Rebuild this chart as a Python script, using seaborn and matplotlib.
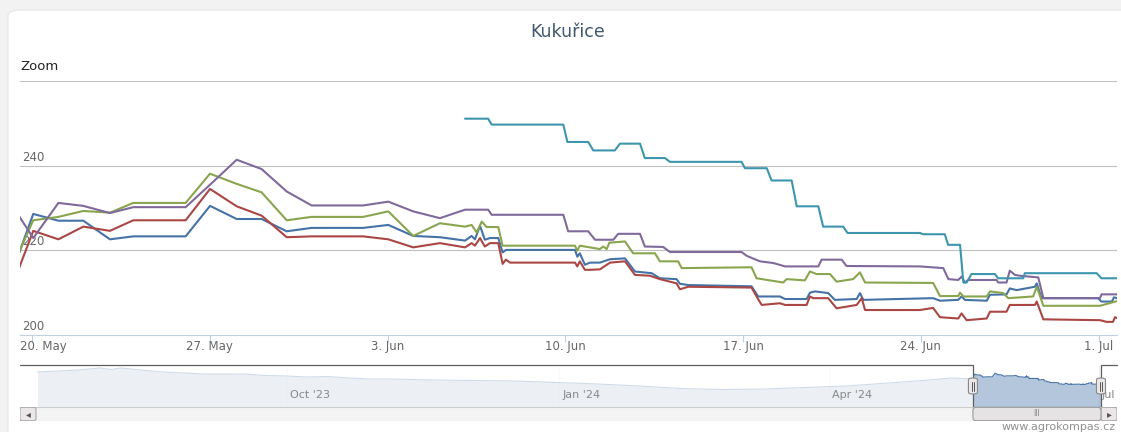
import numpy as np
import pandas as pd
import matplotlib
matplotlib.use("Agg")
import matplotlib.pyplot as plt
import matplotlib.dates as mdates
import matplotlib.transforms as mtransforms
from matplotlib.patches import Rectangle, FancyBboxPatch
import seaborn as sns

W, H = 1121, 432
BASE = pd.Timestamp("2024-05-20")

# ---- zoomed period: days after 20 May 2024 / price ----
blue_days = [-0.51, 0.05, 1.04, 2.02, 3.07, 3.99, 6.05, 7.01, 8.06, 9.04, 10.03, 11.01, 13.04,
             14.03, 15.01, 16.06, 17.05, 17.31, 17.44, 17.64, 17.83, 18.03, 18.36, 18.53, 18.66,
             21.38, 21.47, 21.57, 21.77, 21.97, 22.36, 22.76, 23.35, 23.74, 24.07, 24.40, 24.72,
             25.38, 25.51, 25.84, 28.33, 28.59, 29.45, 29.65, 30.50, 30.63, 30.83, 31.35, 31.61,
             32.47, 32.60, 32.73, 35.48, 35.75, 36.47, 36.60, 36.73, 37.59, 37.72, 38.37, 38.50,
             38.77, 39.49, 39.56, 39.75, 41.97, 42.11, 42.52, 42.60, 42.72]
blue_vals = [219.3, 228.6, 227.0, 227.0, 222.6, 223.3, 223.3, 230.5, 227.4, 227.4, 224.5, 225.3, 225.3,
             226.0, 223.4, 223.1, 222.3, 223.4, 222.6, 225.8, 222.5, 222.9, 222.9, 219.5, 220.1,
             220.1, 218.5, 219.3, 216.6, 217.1, 217.1, 217.9, 218.1, 215.0, 214.8, 214.6, 213.4,
             213.2, 212.1, 211.8, 211.5, 209.1, 209.1, 208.5, 208.5, 210.0, 210.3, 209.9, 208.3,
             208.5, 209.9, 208.3, 208.7, 208.1, 208.3, 209.1, 208.3, 208.1, 209.5, 209.6, 211.0,
             210.6, 211.4, 212.2, 208.7, 208.7, 207.9, 207.9, 208.9, 208.7]

red_days = [-0.51, 0.05, 1.04, 2.02, 3.07, 3.99, 6.05, 7.01, 8.06, 9.04, 10.03, 11.01, 13.04,
            14.03, 15.01, 16.06, 17.05, 17.31, 17.44, 17.64, 17.83, 18.03, 18.36, 18.53, 18.66,
            18.82, 21.38, 21.47, 21.57, 21.77, 21.97, 22.36, 22.76, 23.35, 23.74, 24.33, 24.72,
            25.38, 25.51, 25.84, 28.33, 28.53, 28.73, 29.45, 29.65, 30.50, 30.63, 30.76, 31.35,
            31.68, 32.47, 32.67, 32.80, 34.96, 35.48, 35.75, 36.47, 36.60, 36.80, 37.59, 37.72,
            38.37, 38.50, 39.49, 39.56, 39.82, 42.05, 42.31, 42.56, 42.64, 42.72]
red_vals = [215.8, 224.6, 222.6, 225.6, 224.6, 227.1, 227.1, 234.5, 230.4, 228.2, 223.1, 223.3, 223.3,
            222.6, 220.7, 221.7, 220.7, 221.7, 221.1, 222.9, 220.9, 221.7, 221.7, 216.8, 217.8,
            217.1, 217.1, 216.2, 217.4, 215.4, 215.4, 215.5, 217.1, 217.4, 214.2, 214.0, 213.2,
            212.2, 210.8, 211.4, 211.2, 209.1, 207.1, 207.5, 207.1, 207.1, 209.1, 208.7, 208.7,
            206.3, 207.1, 208.7, 205.9, 205.9, 206.4, 204.2, 203.9, 205.1, 203.5, 203.9, 205.5,
            205.5, 207.1, 207.1, 207.9, 203.7, 203.5, 203.1, 203.1, 204.2, 204.0]

green_days = [-0.47, 0.05, 1.04, 2.02, 3.07, 3.99, 6.05, 7.01, 8.06, 9.04, 10.03, 11.01, 13.04,
              14.03, 15.01, 16.06, 17.05, 17.31, 17.51, 17.71, 17.90, 18.36, 18.53, 21.38, 21.47,
              21.57, 22.36, 22.49, 22.63, 22.73, 23.35, 23.67, 24.53, 24.72, 25.44, 25.58, 28.33,
              28.53, 29.58, 29.71, 30.43, 30.63, 30.89, 31.42, 31.68, 32.33, 32.60, 32.80, 35.48,
              35.75, 36.47, 36.54, 36.67, 37.59, 37.72, 38.24, 38.44, 39.42, 39.56, 39.82, 42.05,
              42.72]
green_vals = [220.1, 227.1, 227.9, 229.3, 228.9, 231.2, 231.2, 238.1, 235.7, 233.7, 227.1, 227.9, 227.9,
              229.2, 223.4, 226.4, 225.6, 226.0, 224.2, 226.8, 225.5, 225.5, 221.1, 221.1, 219.9,
              221.1, 220.3, 220.9, 220.3, 221.8, 222.1, 219.3, 219.3, 217.4, 217.4, 215.8, 216.0,
              213.4, 212.4, 213.2, 212.9, 215.0, 214.4, 214.4, 212.6, 213.2, 214.8, 212.4, 212.3,
              209.2, 209.2, 210.0, 209.1, 209.1, 210.3, 209.9, 208.7, 209.1, 211.4, 206.9, 206.9,
              208.0]

purple_days = [-0.51, 0.05, 1.04, 2.02, 3.07, 3.99, 6.05, 7.01, 8.06, 9.04, 10.03, 11.01, 13.04,
               14.03, 15.01, 16.06, 17.05, 17.96, 18.10, 20.92, 21.11, 21.90, 22.17, 22.89, 23.08,
               23.94, 24.13, 24.85, 25.12, 27.94, 28.14, 28.66, 29.19, 29.65, 30.96, 31.09, 31.88,
               32.07, 34.96, 35.88, 36.08, 36.47, 36.60, 36.73, 36.86, 37.98, 38.04, 38.37, 38.50,
               38.70, 38.90, 39.62, 39.82, 42.05, 42.11, 42.72]
purple_vals = [228.1, 222.9, 231.2, 230.5, 228.8, 230.2, 230.2, 235.5, 241.4, 239.2, 233.9, 230.6, 230.6,
               231.5, 229.2, 227.6, 229.6, 229.6, 228.4, 228.4, 224.5, 224.5, 222.5, 222.5, 223.9,
               223.9, 220.9, 220.8, 219.6, 219.6, 218.7, 217.4, 217.0, 216.2, 216.2, 217.8, 217.8,
               216.3, 216.2, 215.8, 213.2, 213.0, 213.8, 212.4, 213.0, 213.0, 212.4, 212.4, 215.2,
               214.2, 214.0, 213.6, 208.7, 208.7, 209.6, 209.6]

cyan_days = [17.05, 17.96, 18.10, 20.92, 21.08, 21.90, 22.10, 22.95, 23.15, 23.94, 24.13, 24.92,
             25.12, 27.94, 28.07, 28.93, 29.12, 29.91, 30.11, 30.96, 31.15, 31.94, 32.11, 34.96,
             35.09, 35.94, 36.07, 36.54, 36.67, 36.80, 36.99, 37.91, 38.04, 39.03, 39.09, 41.92,
             42.11, 42.72]
cyan_vals = [251.1, 251.1, 249.7, 249.7, 245.6, 245.6, 243.6, 243.6, 245.2, 245.2, 241.8, 241.8,
             240.9, 240.9, 239.4, 239.4, 236.5, 236.5, 230.4, 230.4, 225.6, 225.6, 224.1, 224.1,
             223.8, 223.8, 221.3, 221.3, 212.4, 212.4, 214.4, 214.4, 213.4, 213.4, 214.6, 214.6,
             213.4, 213.4]

# ---- navigator history (before the zoomed window) ----
nav_dates = ["2023-07-09", "2023-07-16", "2023-07-23", "2023-07-30", "2023-08-03", "2023-08-06",
             "2023-08-13", "2023-08-20", "2023-08-27", "2023-09-03", "2023-09-17", "2023-09-24",
             "2023-10-01", "2023-10-08", "2023-10-15", "2023-10-22", "2023-10-29", "2023-11-05",
             "2023-11-19", "2023-12-03", "2023-12-17", "2023-12-31", "2024-01-14", "2024-01-28",
             "2024-02-11", "2024-02-25", "2024-03-10", "2024-03-24", "2024-04-07", "2024-04-21",
             "2024-05-05", "2024-05-12"]
nav_vals = [233, 235, 237, 241, 238, 241, 237, 233, 231, 229, 229, 226,
            225, 223, 224, 221, 219, 219, 217, 216, 215, 212, 209, 205,
            200, 198, 199, 202, 205, 211, 217, 221]

series_names = ["s1", "s2", "s3", "s4", "s5"]
colors = ["#4572A7", "#AA4643", "#89A54E", "#80699B", "#3D96AE"]

xtick_dates = ["2024-05-20", "2024-05-27", "2024-06-03", "2024-06-10", "2024-06-17", "2024-06-24", "2024-07-01"]
xtick_labels = ["20. May", "27. May", "3. Jun", "10. Jun", "17. Jun", "24. Jun", "1. Jul"]
ytick_vals = [200, 220, 240]
nav_tick_dates = ["2023-10-01", "2024-01-01", "2024-04-01", "2024-07-01"]
nav_tick_labels = ["Oct '23", "Jan '24", "Apr '24", "Jul"]


def frame(name, days, vals):
    return pd.DataFrame({"date": BASE + pd.to_timedelta(days, unit="D"),
                         "price": vals, "series": name})


df = pd.concat([frame(n, d, v) for n, d, v in zip(
    series_names,
    [blue_days, red_days, green_days, purple_days, cyan_days],
    [blue_vals, red_vals, green_vals, purple_vals, cyan_vals])], ignore_index=True)

nav = pd.concat([pd.DataFrame({"date": pd.to_datetime(nav_dates), "price": nav_vals}),
                 frame("s1", blue_days, blue_vals)[["date", "price"]]], ignore_index=True)

sns.set_style("white")
plt.rcParams["font.family"] = ["DejaVu Sans"]


def fx(px):
    return px / W


def fy(py):
    return 1 - py / H


fig = plt.figure(figsize=(W / 100, H / 100), dpi=100, facecolor="#f2f2f2")
# white card behind everything
fig.patches.append(FancyBboxPatch((fx(8), fy(H + 20)), 1.2, (H + 10) / H,
                                  boxstyle="round,pad=0,rounding_size=0.012",
                                  transform=fig.transFigure, facecolor="white",
                                  edgecolor="#e4e4e4", linewidth=0.8, zorder=-5))

fig.text(fx(568), fy(32), "Kukuřice", ha="center", va="center", fontsize=12.5, color="#3E576F")
fig.text(fx(20), fy(66), "Zoom", ha="left", va="center", fontsize=9.5, color="#222222")

# ---- main chart ----
x0 = BASE + pd.Timedelta(days=-0.472)
x1 = BASE + pd.Timedelta(days=42.72)
ax = fig.add_axes([fx(20), fy(335), (1117 - 20) / W, (335 - 81) / H])
ax.set_facecolor("none")
sns.lineplot(data=df, x="date", y="price", hue="series", hue_order=series_names,
             palette=colors, estimator=None, sort=False, linewidth=1.5,
             legend=False, ax=ax, solid_joinstyle="round", solid_capstyle="round")
ax.set_xlim(x0, x1)
ax.set_ylim(200, 260)
for v in [220, 240, 260]:
    ax.axhline(v, color="#C0C0C0", linewidth=0.8, zorder=0)
for s in ["top", "left", "right"]:
    ax.spines[s].set_visible(False)
ax.spines["bottom"].set_color("#C0D0E0")
ax.spines["bottom"].set_linewidth(0.8)
ax.set_yticks([])
ax.set_xticks(pd.to_datetime(xtick_dates))
ax.set_xticklabels([])
ax.tick_params(axis="x", direction="out", length=5, width=0.8, color="#C0D0E0", bottom=True)
ax.set_xlabel("")
ax.set_ylabel("")
for d, lab in zip(pd.to_datetime(xtick_dates), xtick_labels):
    ha = "center"
    xd = d
    if lab == xtick_labels[0]:
        ha, xd = "left", x0
    ax.annotate(lab, (xd, 200), xytext=(0, -11), textcoords="offset pixels",
                ha=ha, va="center", fontsize=8.5, color="#666666", annotation_clip=False)
blend = mtransforms.blended_transform_factory(ax.transAxes, ax.transData)
for v in ytick_vals:
    ax.annotate(str(v), (0, v), xycoords=blend, xytext=(2, 2), textcoords="offset pixels",
                ha="left", va="bottom", fontsize=8.5, color="#666666", zorder=1)

# ---- navigator ----
nav_start = pd.Timestamp("2023-07-08 12:00")
nav_end = BASE + pd.Timedelta(days=42.72)
pad = pd.Timedelta(days=16 / 2.962)
nax = fig.add_axes([fx(20), fy(407), (1117 - 20) / W, (407 - 365) / H])
nax.set_facecolor("none")
nax.set_xlim(nav_start - pad, nav_end + pad)
nax.set_ylim(163, 247)
for d in pd.to_datetime(nav_tick_dates):
    nax.axvline(d, color="#EEEEEE", linewidth=0.8, zorder=0)
nax.fill_between(nav["date"], nav["price"], 163, color="#4572A7", alpha=0.4, linewidth=0, zorder=1)
sns.lineplot(data=nav, x="date", y="price", color="#4572A7", linewidth=0.8,
             estimator=None, sort=False, ax=nax, zorder=2)
nax.axis("off")
lo, hi = nax.get_xlim()
sel0 = mdates.date2num(x0)
sel1 = mdates.date2num(x1)
# white mask outside the selection
nax.add_patch(Rectangle((lo, 163), sel0 - lo, 84, facecolor="white", alpha=0.75, zorder=3, linewidth=0))
nax.add_patch(Rectangle((sel1, 163), hi - sel1, 84, facecolor="white", alpha=0.75, zorder=3, linewidth=0))
for d, lab in zip(pd.to_datetime(nav_tick_dates), nav_tick_labels):
    nax.annotate(lab, (d, 163), xytext=(3, 12), textcoords="offset pixels",
                 ha="left", va="center", fontsize=8, color="#888888", zorder=4)
# outline
nax.plot([lo, sel0, sel0, sel1, sel1, hi], [247, 247, 163, 163, 247, 247],
         color="#5e5e5e", linewidth=0.9, zorder=5, clip_on=False, solid_joinstyle="miter")
# handles
for sx in [sel0, sel1]:
    hfx, hfy = fig.transFigure.inverted().transform(nax.transData.transform((sx, 205)))
    fig.patches.append(FancyBboxPatch((hfx - 4.5 / W, hfy - 8 / H), 9 / W, 16 / H,
                                      boxstyle="round,pad=0,rounding_size=0.004",
                                      transform=fig.transFigure, facecolor="#ebe7e8",
                                      edgecolor="#888888", linewidth=0.8, zorder=10))
    for dx in [-1.3, 1.3]:
        fig.lines.append(plt.Line2D([hfx + dx / W] * 2, [hfy - 4.5 / H, hfy + 4.5 / H],
                                    transform=fig.transFigure, color="#555555",
                                    linewidth=0.7, zorder=11))

# ---- scrollbar ----
sb_top, sb_bot = 407, 421
sc = fig.add_axes([fx(20), fy(sb_bot), (1117 - 20) / W, (sb_bot - sb_top) / H])
sc.set_xlim(20, 1117)
sc.set_ylim(0, 1)
sc.axis("off")
sc.add_patch(Rectangle((20, 0.02), 1097, 0.96, facecolor="#f4f4f4", edgecolor="#cccccc", linewidth=0.8))
for bx, glyph in [(20, "◂"), (1101, "▸")]:
    sc.add_patch(FancyBboxPatch((bx, 0.02), 16, 0.96, boxstyle="round,pad=0,rounding_size=2",
                                facecolor="#ebe7e8", edgecolor="#aaaaaa", linewidth=0.8,
                                mutation_aspect=1 / 14))
    sc.text(bx + 8, 0.5, glyph, ha="center", va="center", fontsize=7, color="#555555")
tx0 = fig.transFigure.inverted().transform((nax.transData.transform((sel0, 0))[0], 0))[0] * W
tx1 = fig.transFigure.inverted().transform((nax.transData.transform((sel1, 0))[0], 0))[0] * W
sc.add_patch(FancyBboxPatch((tx0, 0.02), tx1 - tx0, 0.96, boxstyle="round,pad=0,rounding_size=3",
                            facecolor="#e6e3e4", edgecolor="#999999", linewidth=0.8,
                            mutation_aspect=1 / 14))
sc.text((tx0 + tx1) / 2, 0.5, "III", ha="center", va="center", fontsize=5.5, color="#888888")

fig.text(fx(1116), fy(427), "www.agrokompas.cz", ha="right", va="center", fontsize=8, color="#909090")

fig.savefig("out.png", dpi=100, facecolor=fig.get_facecolor())
